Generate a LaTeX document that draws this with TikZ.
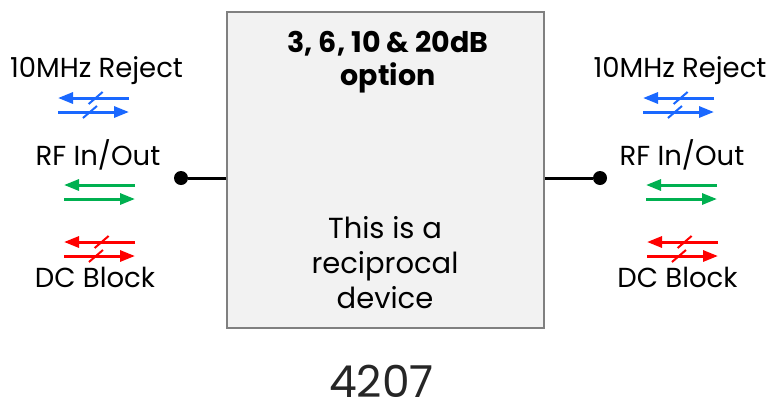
\documentclass[tikz,border=0pt]{standalone}
\usepackage{fontspec}
\setmainfont{Poppins}
\usetikzlibrary{arrows.meta,calc}
\definecolor{rfblue}{RGB}{26,104,255}
\definecolor{rfgreen}{RGB}{0,176,80}
\definecolor{rfred}{RGB}{255,0,0}
\definecolor{boxgray}{RGB}{128,128,128}
\definecolor{boxfill}{RGB}{242,242,242}
\tikzset{
  lbl/.style={anchor=base,inner sep=0pt,font=\fontsize{27.5}{30}\selectfont},
  boxtitle/.style={anchor=base,inner sep=0pt,align=center,font=\bfseries\fontsize{28.5}{33}\selectfont},
  boxnote/.style={anchor=base,inner sep=0pt,align=center,font=\fontsize{29}{35}\selectfont},
  device/.style={draw=boxgray,line width=2pt,fill=boxfill,minimum width=317pt,minimum height=316pt,inner sep=0pt},
  port/.style={circle,fill=black,inner sep=0pt,minimum size=14pt},
  lead/.style={line width=3pt},
  sig/.style={line width=3pt,-{Triangle[length=15pt,width=11pt]}},
  slash/.style={line width=2pt},
}
\newcommand{\arrowpair}[5]{% name, left x, top y, colour, slashed(1/0)
  \coordinate (#1tl) at (#2,#3);
  \coordinate (#1tr) at (#2+71,#3);
  \coordinate (#1bl) at (#2,#3+14);
  \coordinate (#1br) at (#2+71,#3+14);
  \draw[sig,#4] (#1tr) -- (#1tl);
  \draw[sig,#4] (#1bl) -- (#1br);
  \ifnum#5=1
    \draw[slash,#4] ($(#1tl)!0.53!(#1tr)+(-7,6)$) -- ($(#1tl)!0.53!(#1tr)+(7,-6)$);
    \draw[slash,#4] ($(#1bl)!0.45!(#1br)+(-7,6)$) -- ($(#1bl)!0.45!(#1br)+(7,-6)$);
  \fi
}
\begin{document}
\begin{tikzpicture}[x=1pt,y=-1pt]
\useasboundingbox (0,0) rectangle (770,405);
% device box
\node[device] (dev) at (385.5,170) {};
\node[boxtitle] (title) at (388,85) {3, 6, 10 \& 20dB\\option};
\node[boxnote] (note) at (385,308) {This is a\\reciprocal\\device};
\node[anchor=base,inner sep=0pt,font=\fontsize{44}{44}\selectfont,text=black!85] (num) at (381.5,397) {4207};
% ports
\node[port] (pl) at (181,178) {};
\node[port] (pr) at (600,178) {};
\draw[lead] (dev.west |- pl) -- (pl);
\draw[lead] (dev.east |- pr) -- (pr);
% left labels
\node[lbl] (lrej) at (96.5,77) {10MHz Reject};
\node[lbl] (lrf) at (98,165) {RF In/Out};
\node[lbl] (ldc) at (95,287) {DC Block};
% right labels
\node[lbl] (rrej) at (680,77) {10MHz Reject};
\node[lbl] (rrf) at (682,165) {RF In/Out};
\node[lbl] (rdc) at (677.5,287) {DC Block};
% arrows left
\arrowpair{lb}{58}{98}{rfblue}{1}
\arrowpair{lg}{64}{185}{rfgreen}{0}
\arrowpair{lr}{64}{242}{rfred}{1}
% arrows right
\arrowpair{rb}{643}{98}{rfblue}{1}
\arrowpair{rg}{646}{185}{rfgreen}{0}
\arrowpair{rr}{647}{242}{rfred}{1}
\end{tikzpicture}
\end{document}
